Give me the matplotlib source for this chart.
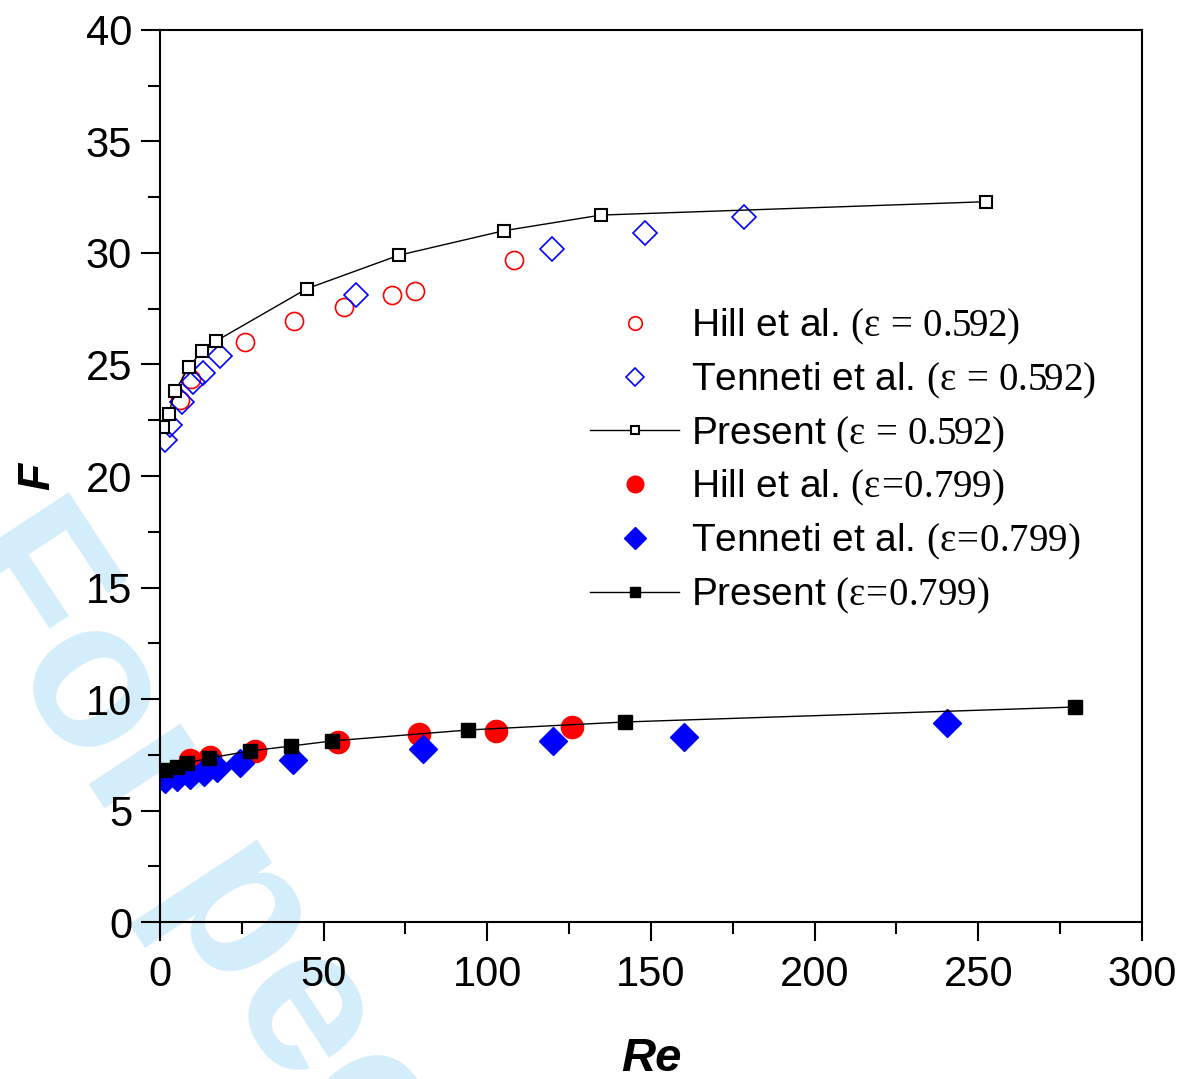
import numpy as np
import matplotlib
matplotlib.use("Agg")
import matplotlib.pyplot as plt
from matplotlib.ticker import MultipleLocator

plt.rcParams['font.family'] = ['Liberation Sans', 'DejaVu Sans']
plt.rcParams['mathtext.fontset'] = 'custom'
plt.rcParams['mathtext.rm'] = 'Liberation Serif'
plt.rcParams['mathtext.it'] = 'Liberation Serif:italic'

# eps = 0.592
hill_592_re = [6.1, 9.5, 26.0, 40.9, 56.2, 70.9, 77.9, 108.1]
hill_592_f = [23.4, 24.35, 26.0, 26.95, 27.6, 28.1, 28.3, 29.7]
tenn_592_re = [1.5, 3.1, 6.7, 10.1, 13.1, 18.3, 59.9, 119.8, 148.2, 178.4]
tenn_592_f = [21.6, 22.3, 23.3, 24.2, 24.6, 25.4, 28.1, 30.2, 30.9, 31.6]
pres_592_re = [0.9, 2.7, 4.6, 8.9, 12.8, 17.1, 44.9, 73.0, 105.1, 134.7, 252.3]
pres_592_f = [22.2, 22.8, 23.8, 24.9, 25.6, 26.05, 28.4, 29.9, 31.0, 31.7, 32.3]

# eps = 0.799
hill_799_re = [9.2, 15.3, 29.0, 54.4, 79.1, 102.6, 125.9]
hill_799_f = [7.26, 7.40, 7.67, 8.07, 8.43, 8.57, 8.74]
tenn_799_re = [1.5, 5.2, 9.2, 13.4, 17.4, 24.4, 40.6, 80.3, 120.1, 160.1, 240.4]
tenn_799_f = [6.41, 6.50, 6.59, 6.73, 6.91, 7.13, 7.26, 7.76, 8.12, 8.30, 8.92]
pres_799_re = [1.5, 5.2, 8.2, 15.0, 27.5, 40.0, 52.6, 94.1, 142.1, 279.5]
pres_799_f = [6.82, 6.95, 7.13, 7.35, 7.67, 7.89, 8.12, 8.61, 8.97, 9.64]

fig = plt.figure(figsize=(11.84, 10.79), dpi=100)
ax = fig.add_axes([0.1351, 0.1455, 0.8294, 0.8267])
ax.patch.set_alpha(0)

# watermark behind the plot
fig.text(-0.051, 0.482, 'For peer review', fontsize=150, fontweight='bold',
         color='#d3edfb', rotation=-56.6, rotation_mode='anchor',
         ha='left', va='baseline', zorder=-1)

ax.plot(hill_592_re, hill_592_f, 'o', ls='none', ms=13, mfc='none',
        mec='red', mew=1.2, label=r'Hill et al. $\mathrm{(ε\,=\,0.592)}$')
ax.plot(tenn_592_re, tenn_592_f, 'D', ls='none', ms=12.5, mfc='none',
        mec='blue', mew=1.2, label=r'Tenneti et al. $\mathrm{(ε\,=\,0.592)}$')
ax.plot(pres_592_re, pres_592_f, 's-', color='black', lw=1.0, ms=8.5,
        mfc='white', mec='black', mew=1.5, label=r'Present $\mathrm{(ε\,=\,0.592)}$')
ax.plot(hill_799_re, hill_799_f, 'o', ls='none', ms=16, color='red',
        label=r'Hill et al. $\mathrm{(ε\!=\!0.799)}$')
ax.plot(tenn_799_re, tenn_799_f, 'D', ls='none', ms=14.5, color='blue',
        label=r'Tenneti et al. $\mathrm{(ε\!=\!0.799)}$')
ax.plot(pres_799_re, pres_799_f, 's-', color='black', lw=1.0, ms=9.5,
        label=r'Present $\mathrm{(ε\!=\!0.799)}$')

ax.set_xlim(0, 300)
ax.set_ylim(0, 40)
ax.xaxis.set_major_locator(MultipleLocator(50))
ax.xaxis.set_minor_locator(MultipleLocator(25))
ax.yaxis.set_major_locator(MultipleLocator(5))
ax.yaxis.set_minor_locator(MultipleLocator(2.5))
ax.tick_params(which='major', direction='out', length=14, width=1.5,
               labelsize=30)
ax.tick_params(axis='x', which='major', pad=10)
ax.tick_params(axis='y', which='major', pad=6)
ax.tick_params(which='minor', direction='out', length=8.5, width=1.5)
for s in ax.spines.values():
    s.set_linewidth(1.5)

ax.set_xlabel('Re', fontsize=34, fontweight='bold', fontstyle='italic', labelpad=30)
ax.set_ylabel('F', fontsize=32, fontweight='bold', fontstyle='italic', labelpad=20)

leg = ax.legend(loc='upper left', bbox_to_anchor=(0.422, 0.707), frameon=False,
                fontsize=28, handlelength=2.3, handletextpad=0.3,
                labelspacing=0.35, borderaxespad=0, markerscale=0.75)

fig.savefig('out.png', dpi=100)
